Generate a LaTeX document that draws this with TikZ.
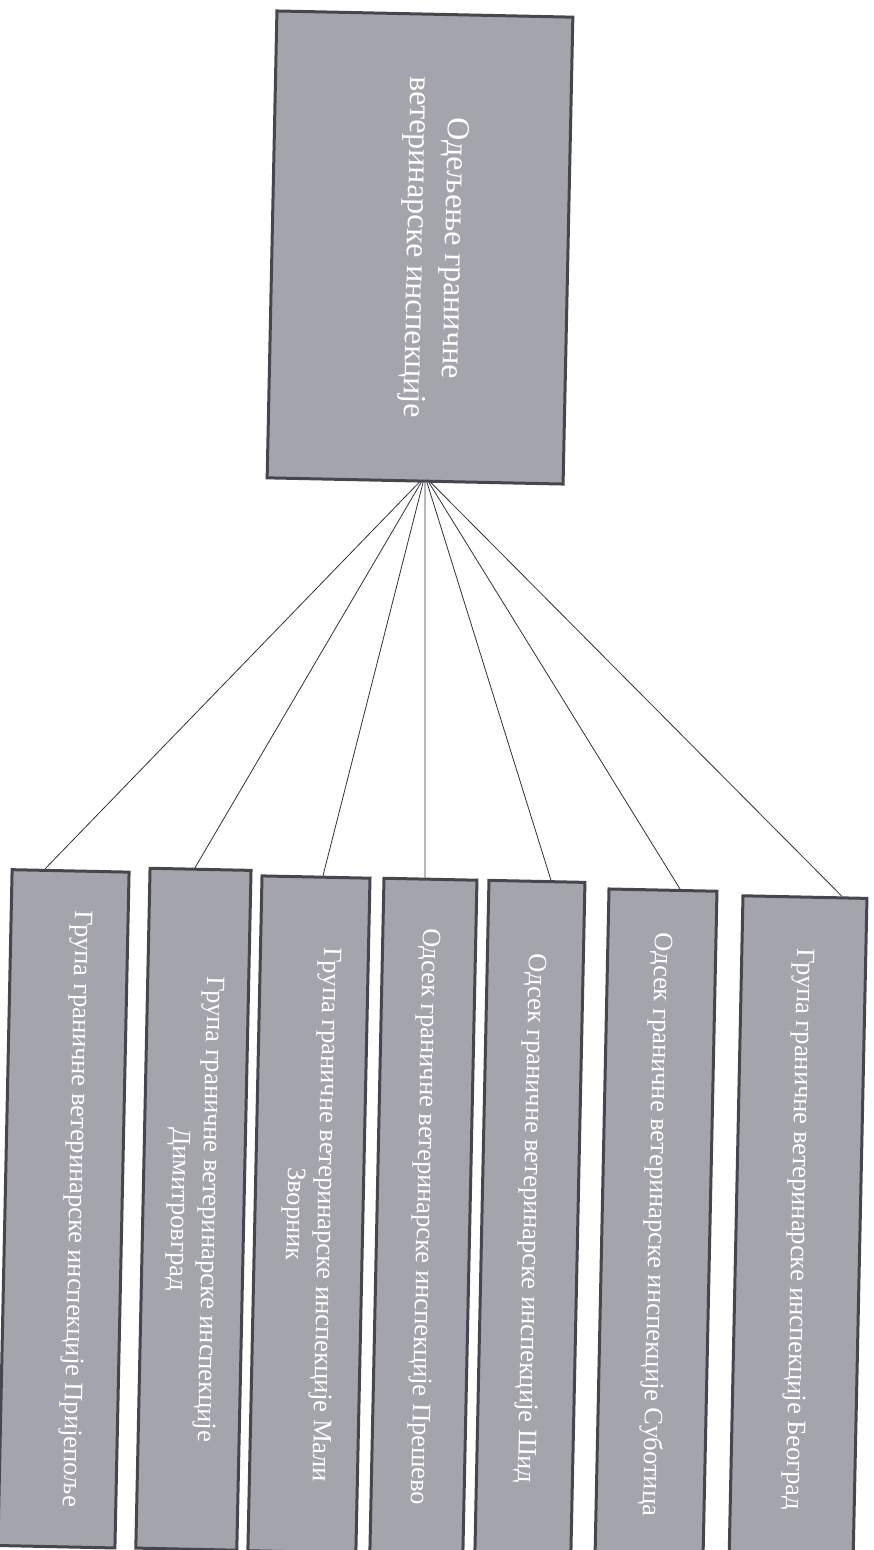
\documentclass[tikz,border=0pt]{standalone}
\usepackage{fontspec}
\setmainfont{Liberation Serif}
\definecolor{boxfill}{RGB}{164,164,172}
\definecolor{boxline}{RGB}{70,70,78}
\definecolor{wire}{RGB}{50,50,55}
\newcommand\liftby[2]{\raisebox{#1}[\height][\depth]{#2}}
\tikzset{
  unit/.style={transform shape, rotate=-90, draw=boxline, fill=boxfill, line width=3pt,
    inner sep=0pt, align=center, text=white},
  headtext/.style={font=\fontsize{32}{38}\selectfont},
  subtext/.style={font=\fontsize{26.5}{31}\selectfont},
  wirestyle/.style={draw=wire, line width=0.8pt}
}
\begin{document}
\begin{tikzpicture}[x=1pt,y=-1pt]
\useasboundingbox (0,0) rectangle (874,1550);
\begin{scope}[rotate around={-1.2:(420,247.5)}]
\node[unit, headtext, minimum width=467pt, minimum height=296pt] (top) at (420,247.5)
  {\liftby{14pt}{\begin{tabular}{@{}c@{}}Одељење граничне\\ветеринарске инспекције\end{tabular}}};
\node[unit, subtext, minimum width=676pt, minimum height=117pt] (b1) at (83.7,1216.1)
  {\liftby{12pt}{Група граничне ветеринарске инспекције Пријепоље}};
\node[unit, subtext, minimum width=680pt, minimum height=101pt] (b2) at (213.6,1213.8)
  {Група граничне ветеринарске инспекције\\Димитровград};
\node[unit, subtext, minimum width=675pt, minimum height=108pt] (b3) at (329.2,1216.6)
  {Група граничне ветеринарске инспекције Мали\\Зворник};
\node[unit, subtext, minimum width=675pt, minimum height=93pt] (b4) at (443.7,1216.4)
  {Одсек граничне ветеринарске инспекције Прешево};
\node[unit, subtext, minimum width=675pt, minimum height=96pt] (b5) at (550.2,1216.3)
  {Одсек граничне ветеринарске инспекције Шид};
\node[unit, subtext, minimum width=669pt, minimum height=108pt] (b6) at (676.4,1219.4)
  {Одсек граничне ветеринарске инспекције Суботица};
\node[unit, subtext, minimum width=665pt, minimum height=124pt] (b7) at (818.5,1221.4)
  {Група граничне ветеринарске инспекције Београд};
\draw[wirestyle] ([xshift=4pt]top.east) -- ([xshift=-25.5pt]b1.west);
\draw[wirestyle] ([xshift=6pt]top.east) -- ([xshift=-5.5pt]b2.west);
\draw[wirestyle] ([xshift=8pt]top.east) -- ([xshift=7pt]b3.west);
\draw[wirestyle] ([xshift=10pt]top.east) -- ([xshift=-5.5pt]b4.west);
\draw[wirestyle] ([xshift=12pt]top.east) -- ([xshift=14pt]b5.west);
\draw[wirestyle] ([xshift=14pt]top.east) -- ([xshift=17pt]b6.west);
\draw[wirestyle] ([xshift=16pt]top.east) -- ([xshift=37pt]b7.west);
\end{scope}
\end{tikzpicture}
\end{document}
